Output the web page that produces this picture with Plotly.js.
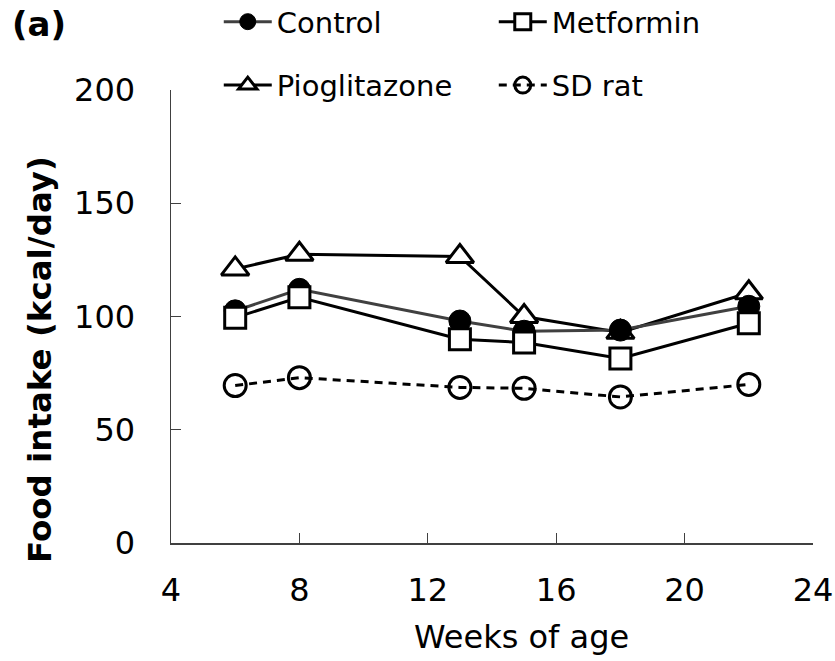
<!DOCTYPE html>
<html><head><meta charset="utf-8">
<script src="https://cdn.plot.ly/plotly-3.0.1.min.js"></script>
<style>html,body{margin:0;padding:0;background:#fff}#chart{width:835px;height:661px}</style>
</head><body><div id="chart"></div>
<script>
const weeks = [6, 8, 13, 15, 18, 22];
const control = [102.5, 112, 98, 93.5, 94, 104.5];
const metformin = [99.5, 108.5, 90, 88.5, 81.5, 97];
const pioglitazone = [121, 127.5, 126.5, 100, 93, 110.5];
const sdRat = [69.5, 73, 68.7, 68.3, 64.5, 70];
const xTicks = [4, 8, 12, 16, 20, 24];
const yTicks = [0, 50, 100, 150, 200];
const seriesNames = ['Control', 'Metformin', 'Pioglitazone', 'SD rat'];

const FONT = '"DejaVu Sans", Verdana, sans-serif';

const traces = [
  {x: weeks, y: pioglitazone, name: seriesNames[2], legend: 'legend2', mode: 'lines+markers',
   line: {color: '#000', width: 3},
   marker: {symbol: 'triangle-up', size: 24, color: '#fff', line: {color: '#000', width: 3}}},
  {x: weeks, y: control, name: seriesNames[0], legend: 'legend', mode: 'lines+markers',
   line: {color: '#404040', width: 3},
   marker: {symbol: 'circle', size: 22, color: '#000', line: {color: '#000', width: 1}}},
  {x: weeks, y: metformin, name: seriesNames[1], legend: 'legend', mode: 'lines+markers',
   line: {color: '#000', width: 3},
   marker: {symbol: 'square', size: 21, color: '#fff', line: {color: '#000', width: 3}}},
  {x: weeks, y: sdRat, name: seriesNames[3], legend: 'legend2', mode: 'lines+markers',
   line: {color: '#000', width: 3, dash: '8px,6px'},
   marker: {symbol: 'circle-open', size: 22, color: '#000', line: {color: '#000', width: 3}}}
];

const legendCommon = {
  orientation: 'h', xref: 'container', yref: 'container', xanchor: 'left', yanchor: 'middle',
  entrywidth: 212, entrywidthmode: 'pixels', itemwidth: 48,
  font: {family: FONT, size: 29, color: '#000'},
  bgcolor: 'rgba(0,0,0,0)', itemclick: false
};

// paper coords helpers for annotation placement (plot area 171..813 x, 90..543 y)
const px = v => (v - 171) / 642;
const py = v => (543 - v) / 453;

const layout = {
  width: 835, height: 661,
  margin: {l: 171, r: 22, t: 90, b: 118, autoexpand: false},
  paper_bgcolor: '#fff', plot_bgcolor: '#fff',
  font: {family: FONT, color: '#000'},
  showlegend: true,
  xaxis: {range: [4, 24], tickvals: xTicks, ticktext: xTicks.map(String), ticks: 'inside', ticklen: 10,
          tickcolor: '#404040', tickwidth: 1.2, showline: true, linecolor: '#404040', linewidth: 1.5,
          showgrid: false, zeroline: false, tickfont: {size: 32, family: FONT}, ticklabelstandoff: 18},
  yaxis: {range: [0, 200], tickvals: yTicks, ticktext: yTicks.map(String), ticks: 'inside', ticklen: 10,
          tickcolor: '#404040', tickwidth: 1.2, showline: true, linecolor: '#404040', linewidth: 1.5,
          showgrid: false, zeroline: false, tickfont: {size: 32, family: FONT}, ticklabelstandoff: 28},
  legend: Object.assign({x: 0.262, y: 0.967}, legendCommon),
  legend2: Object.assign({x: 0.262, y: 0.871}, legendCommon),
  annotations: [
    {text: '<b>(a)</b>', xref: 'paper', yref: 'paper', x: px(10), y: py(24),
     xanchor: 'left', yanchor: 'middle', showarrow: false, font: {family: FONT, size: 34, color: '#000'}},
    {text: '<b>Food intake (kcal/day)</b>', xref: 'paper', yref: 'paper', x: px(40), y: py(360),
     xanchor: 'center', yanchor: 'middle', textangle: -90, showarrow: false, font: {family: FONT, size: 32.5, color: '#000'}},
    {text: 'Weeks of age', xref: 'paper', yref: 'paper', x: px(521), y: py(637),
     xanchor: 'center', yanchor: 'middle', showarrow: false, font: {family: FONT, size: 32, color: '#000'}}
  ]
};

Plotly.newPlot('chart', traces, layout, {displayModeBar: false, staticPlot: true});
</script>
</body></html>
